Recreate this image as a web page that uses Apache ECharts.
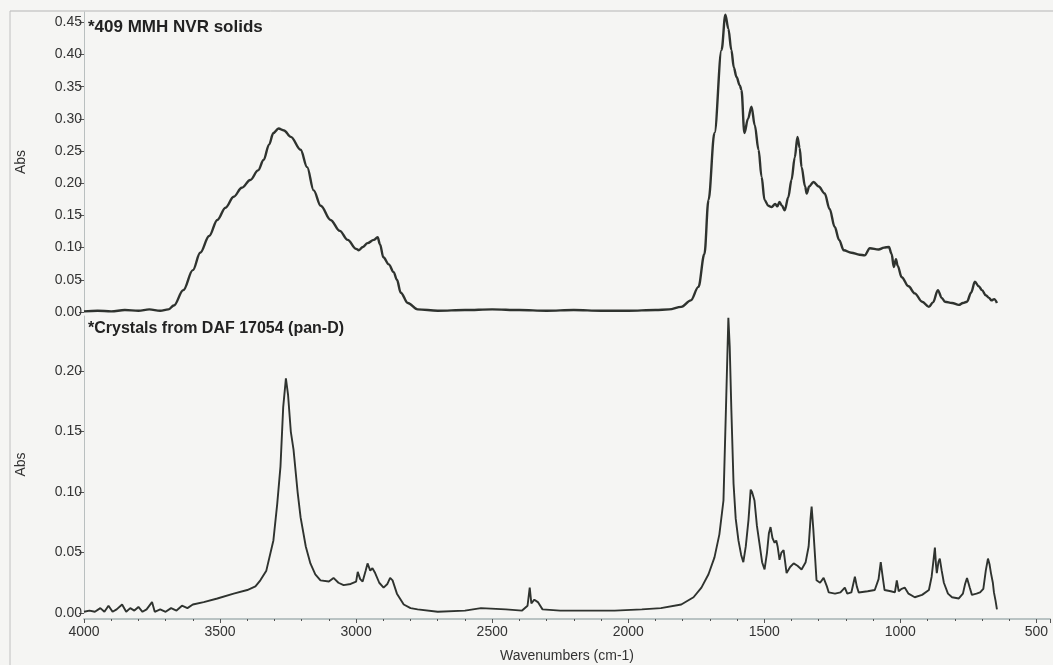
<!DOCTYPE html>
<html>
<head>
<meta charset="utf-8">
<script src="https://cdn.jsdelivr.net/npm/echarts@6/dist/echarts.min.js"></script>
<style>
html,body{margin:0;padding:0;background:#f5f5f3;}
#chart{width:1053px;height:665px;}
</style>
</head>
<body>
<div id="chart"></div>
<script>
// ---- Data ----
var topTitle = '*409 MMH NVR solids';
var bottomTitle = '*Crystals from DAF 17054 (pan-D)';
var xTitle = 'Wavenumbers (cm-1)';
var yTitle = 'Abs';
var topYTicks = [0, 0.05, 0.10, 0.15, 0.20, 0.25, 0.30, 0.35, 0.40, 0.45];
var bottomYTicks = [0, 0.05, 0.10, 0.15, 0.20];

var topWavenumbers = [4000,3950,3900,3850,3800,3760,3720,3690,3670,3635,3600,3573,3540,3510,3480,3450,3420,3389,3360,3340,3320,3304,3285,3265,3240,3204,3180,3156,3130,3094,3060,3031,3000,2990,2975,2958,2935,2921,2912,2900,2880,2862,2850,2836,2810,2774,2700,2600,2500,2400,2300,2200,2100,2000,1900,1850,1805,1770,1742,1720,1705,1683,1657,1643,1632,1621,1612,1602,1590,1584,1573,1560,1547,1535,1521,1510,1499,1485,1473,1460,1452,1444,1435,1425,1412,1400,1388,1378,1370,1363,1350,1344,1335,1319,1300,1278,1260,1241,1225,1208,1180,1150,1131,1112,1080,1060,1042,1032,1024,1016,1010,995,970,947,920,895,880,862,848,836,810,785,770,755,740,726,712,700,686,674,665,655,645];
var topAbs = [0.001,0.002,0.001,0.003,0.002,0.004,0.002,0.004,0.010,0.034,0.065,0.092,0.118,0.143,0.162,0.179,0.193,0.205,0.220,0.236,0.260,0.278,0.285,0.282,0.272,0.252,0.225,0.189,0.165,0.143,0.126,0.112,0.098,0.096,0.101,0.107,0.112,0.116,0.105,0.085,0.074,0.062,0.050,0.030,0.014,0.004,0.002,0.003,0.004,0.003,0.002,0.003,0.002,0.002,0.003,0.004,0.008,0.018,0.039,0.090,0.174,0.278,0.407,0.462,0.440,0.407,0.380,0.365,0.352,0.345,0.278,0.300,0.319,0.290,0.252,0.210,0.174,0.165,0.163,0.168,0.164,0.171,0.165,0.158,0.178,0.205,0.240,0.272,0.255,0.225,0.195,0.184,0.195,0.202,0.195,0.184,0.160,0.132,0.112,0.096,0.092,0.089,0.088,0.099,0.097,0.100,0.101,0.090,0.070,0.082,0.072,0.054,0.040,0.029,0.016,0.008,0.015,0.034,0.022,0.016,0.014,0.011,0.014,0.016,0.030,0.047,0.040,0.034,0.026,0.022,0.018,0.020,0.014];

var bottomWavenumbers = [4000,3980,3960,3940,3925,3910,3895,3880,3860,3845,3830,3815,3800,3785,3770,3750,3740,3720,3700,3680,3660,3640,3620,3600,3560,3510,3450,3400,3370,3352,3330,3304,3290,3278,3268,3258,3250,3240,3230,3215,3204,3185,3168,3150,3131,3100,3083,3065,3046,3020,3000,2994,2985,2976,2965,2958,2948,2940,2930,2915,2899,2885,2875,2866,2850,2825,2800,2774,2700,2600,2541,2450,2390,2370,2362,2356,2345,2332,2315,2250,2150,2050,1950,1880,1805,1760,1731,1705,1683,1665,1650,1640,1632,1627,1621,1613,1605,1595,1585,1577,1568,1558,1550,1545,1536,1527,1518,1508,1499,1490,1483,1477,1470,1462,1456,1451,1444,1437,1429,1418,1405,1392,1378,1363,1348,1337,1330,1326,1320,1313,1308,1295,1282,1270,1263,1240,1220,1204,1195,1180,1167,1160,1153,1120,1094,1080,1072,1065,1058,1035,1020,1013,1006,995,984,970,947,920,895,885,877,873,869,866,860,855,848,840,825,810,785,770,762,755,745,737,720,707,695,686,678,672,667,660,656,650,645];
var bottomAbs = [0.001,0.002,0.001,0.004,0.001,0.006,0.001,0.003,0.007,0.001,0.004,0.002,0.005,0.001,0.003,0.009,0.001,0.003,0.001,0.004,0.002,0.006,0.004,0.007,0.009,0.012,0.016,0.019,0.022,0.027,0.035,0.060,0.090,0.121,0.170,0.194,0.180,0.150,0.135,0.100,0.079,0.055,0.041,0.032,0.027,0.026,0.029,0.025,0.023,0.024,0.026,0.034,0.028,0.026,0.035,0.041,0.035,0.037,0.033,0.025,0.021,0.024,0.029,0.027,0.016,0.007,0.004,0.003,0.001,0.002,0.004,0.003,0.002,0.006,0.021,0.008,0.011,0.009,0.003,0.002,0.002,0.002,0.003,0.004,0.007,0.013,0.021,0.032,0.046,0.065,0.093,0.176,0.244,0.220,0.168,0.107,0.078,0.060,0.048,0.042,0.055,0.077,0.102,0.100,0.093,0.072,0.058,0.042,0.036,0.050,0.066,0.071,0.062,0.058,0.060,0.055,0.044,0.050,0.052,0.033,0.038,0.041,0.039,0.036,0.042,0.055,0.078,0.088,0.070,0.045,0.027,0.025,0.029,0.022,0.017,0.016,0.017,0.021,0.016,0.017,0.030,0.022,0.017,0.018,0.019,0.028,0.042,0.030,0.019,0.018,0.017,0.027,0.018,0.020,0.021,0.016,0.013,0.015,0.019,0.030,0.046,0.054,0.040,0.033,0.042,0.045,0.035,0.025,0.016,0.013,0.012,0.016,0.024,0.029,0.021,0.015,0.016,0.017,0.020,0.035,0.045,0.040,0.033,0.025,0.017,0.010,0.003];

function pairs(xs, ys){ var out=[]; for(var i=0;i<xs.length;i++){ out.push([xs[i], ys[i]]); } return out; }

var chart = echarts.init(document.getElementById('chart'), null, {renderer:'canvas'});
var textColor = '#333';
var fontFam = 'Liberation Sans, Arial, sans-serif';
var lineColor = '#2f332f';

function yAxisCfg(gridIndex, max, ticks){
  return {
    type:'value', gridIndex:gridIndex, min:0, max:max,
    name:yTitle, nameLocation:'middle', nameGap:56, nameRotate:90,
    nameTextStyle:{color:textColor, fontSize:14, fontFamily:fontFam},
    axisLine:{show:true, lineStyle:{color:'#b9bfbf', width:1}},
    axisTick:{show:true, length:5, customValues:ticks, lineStyle:{color:'#555'}},
    axisLabel:{customValues:ticks, color:textColor, fontSize:14, fontFamily:fontFam, margin:2,
      formatter:function(v){ return v.toFixed(2); }},
    splitLine:{show:false}
  };
}

var option = {
  backgroundColor:'#f5f5f3',
  animation:false,
  grid:[
    {left:84, right:3, top:12, height:300},
    {left:84, right:3, top:316, height:297}
  ],
  xAxis:[
    {type:'value', gridIndex:0, min:450, max:4000, inverse:true, show:false, splitNumber:7},
    {type:'value', gridIndex:1, min:450, max:4000, inverse:true, splitNumber:7, offset:6,
      name:xTitle, nameLocation:'middle', nameGap:30,
      nameTextStyle:{color:textColor, fontSize:14, fontFamily:fontFam},
      axisLine:{show:true, onZero:false, lineStyle:{color:'#b9c3c3', width:2}},
      axisTick:{show:true, length:4, inside:false, lineStyle:{color:'#555'}},
      minorTick:{show:true, splitNumber:5, length:2, lineStyle:{color:'#555'}},
      axisLabel:{color:textColor, fontSize:14, fontFamily:fontFam, margin:6, showMinLabel:false, showMaxLabel:true,
        formatter:function(v){ return String(v); }},
      splitLine:{show:false}
    }
  ],
  yAxis:[
    yAxisCfg(0, 0.466, topYTicks),
    yAxisCfg(1, 0.2455, bottomYTicks)
  ],
  series:[
    {type:'line', xAxisIndex:0, yAxisIndex:0, data:pairs(topWavenumbers, topAbs), showSymbol:false,
      smooth:0.35, smoothMonotone:'x', clip:false, lineStyle:{color:lineColor, width:2.4}},
    {type:'line', xAxisIndex:1, yAxisIndex:1, data:pairs(bottomWavenumbers, bottomAbs), showSymbol:false,
      clip:false, lineStyle:{color:lineColor, width:1.9}}
  ],
  graphic:[
    {type:'line', shape:{x1:10, y1:11, x2:1053, y2:11}, style:{stroke:'#b5b5b5', lineWidth:1}},
    {type:'line', shape:{x1:10, y1:11, x2:10, y2:665}, style:{stroke:'#c0c0c0', lineWidth:1}},
    {type:'text', left:88, top:19, style:{text:topTitle, fill:'#222', font:'bold 17px Liberation Sans, Arial, sans-serif'}},
    {type:'text', left:88, top:321, style:{text:bottomTitle, fill:'#222', font:'bold 16px Liberation Sans, Arial, sans-serif'}}
  ]
};
chart.setOption(option);
</script>
</body>
</html>
